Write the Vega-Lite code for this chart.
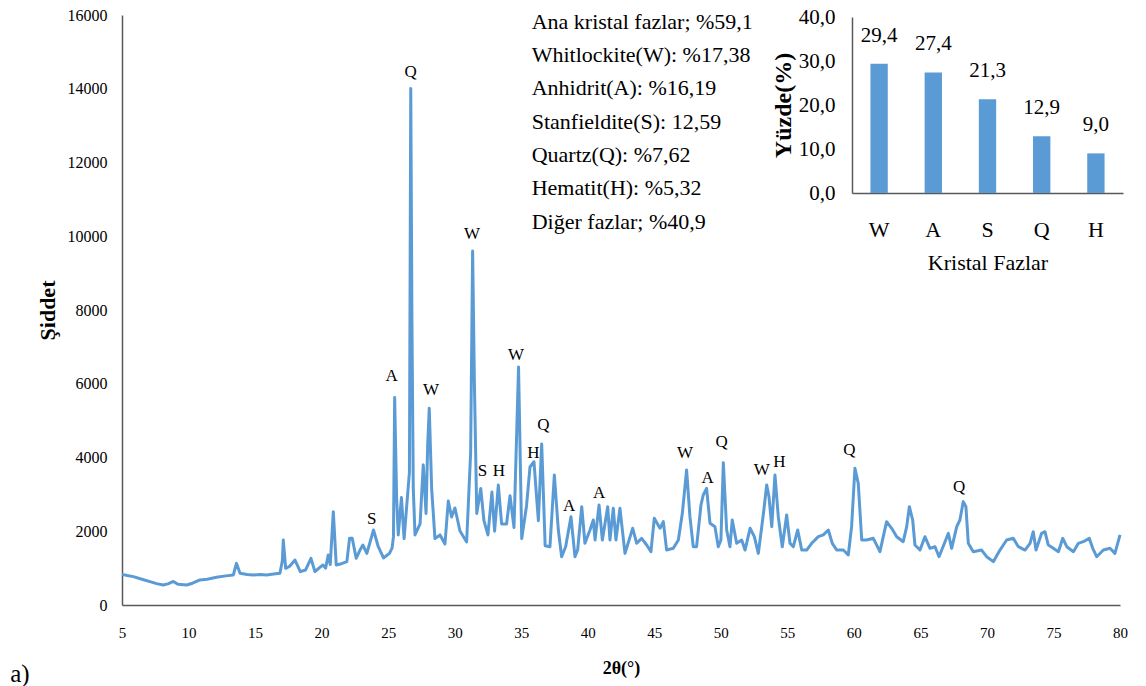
{
  "$schema": "https://vega.github.io/schema/vega-lite/v6.json",
  "autosize": {"type": "none"},
  "width": 998,
  "height": 590,
  "padding": {"left": 122, "top": 15, "right": 26, "bottom": 81},
  "background": "white",
  "config": {
    "view": {"stroke": null},
    "font": "Liberation Serif",
    "axis": {"labelFont": "Liberation Serif", "titleFont": "Liberation Serif", "labelColor": "#000000", "titleColor": "#000000", "domainColor": "#595959", "domainWidth": 1.5, "grid": false, "ticks": false, "tickSize": 0}
  },
  "layer": [
    {
      "encoding": {
        "x": {
          "field": "theta", "type": "quantitative",
          "scale": {"domain": [5, 80], "nice": false, "zero": false},
          "axis": {"orient": "bottom", "values": [5,10,15,20,25,30,35,40,45,50,55,60,65,70,75,80], "title": "2θ(°)", "titleFontWeight": "bold", "titleFontSize": 18, "labelFontSize": 15, "labelPadding": 20, "titlePadding": 19, "labelFlush": false}
        },
        "y": {
          "field": "intensity", "type": "quantitative",
          "scale": {"domain": [0, 16000], "nice": false},
          "axis": {"orient": "left", "values": [0,2000,4000,6000,8000,10000,12000,14000,16000], "format": "d", "title": "Şiddet", "titleFontWeight": "bold", "titleFontSize": 22, "labelFontSize": 16, "labelPadding": 15, "titlePadding": 8}
        }
      },
      "layer": [
        {
          "data": {"values": [
            {"theta":5.0,"intensity":830},{"theta":5.4,"intensity":800},{"theta":5.85,"intensity":770},{"theta":6.5,"intensity":700},{"theta":7.1,"intensity":633},{"theta":7.6,"intensity":580},{"theta":8.1,"intensity":542},{"theta":8.5,"intensity":580},{"theta":8.86,"intensity":640},{"theta":9.2,"intensity":560},{"theta":9.86,"intensity":542},{"theta":10.3,"intensity":590},{"theta":10.86,"intensity":680},{"theta":11.4,"intensity":700},{"theta":12.1,"intensity":750},{"theta":12.8,"intensity":790},{"theta":13.37,"intensity":814},{"theta":13.6,"intensity":1130},{"theta":13.87,"intensity":860},{"theta":14.4,"intensity":830},{"theta":14.87,"intensity":814},{"theta":15.4,"intensity":830},{"theta":15.87,"intensity":814},{"theta":16.4,"intensity":840},{"theta":16.87,"intensity":860},{"theta":17.05,"intensity":1200},{"theta":17.12,"intensity":1763},{"theta":17.3,"intensity":995},{"theta":17.6,"intensity":1050},{"theta":18.0,"intensity":1220},{"theta":18.4,"intensity":904},{"theta":18.8,"intensity":950},{"theta":19.2,"intensity":1266},{"theta":19.5,"intensity":904},{"theta":19.8,"intensity":1000},{"theta":20.1,"intensity":1085},{"theta":20.3,"intensity":1000},{"theta":20.5,"intensity":1356},{"theta":20.65,"intensity":1100},{"theta":20.88,"intensity":2530},{"theta":21.1,"intensity":1085},{"theta":21.5,"intensity":1120},{"theta":21.9,"intensity":1175},{"theta":22.1,"intensity":1808},{"theta":22.3,"intensity":1808},{"theta":22.6,"intensity":1266},{"theta":22.9,"intensity":1500},{"theta":23.1,"intensity":1627},{"theta":23.4,"intensity":1400},{"theta":23.9,"intensity":2034},{"theta":24.26,"intensity":1580},{"theta":24.65,"intensity":1275},{"theta":25.1,"intensity":1400},{"theta":25.3,"intensity":1550},{"theta":25.4,"intensity":1854},{"theta":25.49,"intensity":5627},{"theta":25.64,"intensity":2875},{"theta":25.76,"intensity":1900},{"theta":26.0,"intensity":2915},{"theta":26.2,"intensity":1800},{"theta":26.5,"intensity":3157},{"theta":26.6,"intensity":3600},{"theta":26.7,"intensity":14005},{"theta":26.79,"intensity":7620},{"theta":26.89,"intensity":3157},{"theta":27.02,"intensity":1900},{"theta":27.4,"intensity":2200},{"theta":27.64,"intensity":3800},{"theta":27.85,"intensity":2479},{"theta":27.97,"intensity":4320},{"theta":28.09,"intensity":5337},{"theta":28.27,"intensity":3157},{"theta":28.52,"intensity":1800},{"theta":28.9,"intensity":1900},{"theta":29.27,"intensity":1654},{"theta":29.52,"intensity":2820},{"theta":29.77,"intensity":2387},{"theta":30.02,"intensity":2630},{"theta":30.4,"intensity":2007},{"theta":30.9,"intensity":1710},{"theta":31.2,"intensity":4125},{"theta":31.35,"intensity":9600},{"theta":31.48,"intensity":6075},{"theta":31.66,"intensity":2479},{"theta":31.96,"intensity":3157},{"theta":32.2,"intensity":2286},{"theta":32.5,"intensity":1900},{"theta":32.8,"intensity":3064},{"theta":33.0,"intensity":2000},{"theta":33.28,"intensity":3254},{"theta":33.53,"intensity":2197},{"theta":33.9,"intensity":2197},{"theta":34.16,"intensity":2964},{"theta":34.46,"intensity":2100},{"theta":34.8,"intensity":6455},{"theta":35.04,"intensity":1800},{"theta":35.4,"intensity":2685},{"theta":35.66,"intensity":3742},{"theta":35.96,"intensity":3884},{"theta":36.29,"intensity":2286},{"theta":36.54,"intensity":4366},{"theta":36.8,"intensity":1608},
            {"theta":37.16,"intensity":1581},{"theta":37.49,"intensity":3526},{"theta":37.79,"intensity":2034},{"theta":38.04,"intensity":1310},{"theta":38.34,"intensity":1581},{"theta":38.74,"intensity":2395},{"theta":39.04,"intensity":1310},{"theta":39.24,"intensity":1490},{"theta":39.55,"intensity":2667},{"theta":39.79,"intensity":1673},{"theta":40.17,"intensity":2034},{"theta":40.42,"intensity":2305},{"theta":40.55,"intensity":1763},{"theta":40.85,"intensity":2712},{"theta":41.1,"intensity":1763},{"theta":41.5,"intensity":2667},{"theta":41.67,"intensity":1763},{"theta":41.92,"intensity":2622},{"theta":42.12,"intensity":1763},{"theta":42.42,"intensity":2622},{"theta":42.8,"intensity":1400},{"theta":43.38,"intensity":2080},{"theta":43.68,"intensity":1673},{"theta":44.05,"intensity":1808},{"theta":44.43,"intensity":1627},{"theta":44.75,"intensity":1446},{"theta":45.0,"intensity":2351},{"theta":45.43,"intensity":2080},{"theta":45.68,"intensity":2260},{"theta":45.93,"intensity":1490},{"theta":46.43,"intensity":1537},{"theta":46.81,"intensity":1763},{"theta":47.11,"intensity":2487},{"theta":47.43,"intensity":3661},{"theta":47.68,"intensity":2395},{"theta":47.93,"intensity":1581},{"theta":48.18,"intensity":1581},{"theta":48.51,"intensity":2712},{"theta":48.68,"intensity":2983},{"theta":48.93,"intensity":3164},{"theta":49.19,"intensity":2215},{"theta":49.56,"intensity":2125},{"theta":49.81,"intensity":1581},{"theta":50.01,"intensity":1763},{"theta":50.19,"intensity":3860},{"theta":50.44,"intensity":2034},{"theta":50.69,"intensity":1581},{"theta":50.86,"intensity":2305},{"theta":51.19,"intensity":1673},{"theta":51.57,"intensity":1763},{"theta":51.82,"intensity":1490},{"theta":52.2,"intensity":2080},{"theta":52.52,"intensity":1853},{"theta":52.82,"intensity":1400},{"theta":53.19,"intensity":2440},{"theta":53.45,"intensity":3254},{"theta":53.62,"intensity":2938},{"theta":53.83,"intensity":2125},{"theta":54.07,"intensity":3526},{"theta":54.32,"intensity":2395},{"theta":54.62,"intensity":1581},{"theta":54.95,"intensity":2440},{"theta":55.2,"intensity":1673},{"theta":55.45,"intensity":1581},{"theta":55.78,"intensity":2034},{"theta":56.08,"intensity":1490},{"theta":56.45,"intensity":1490},{"theta":56.83,"intensity":1673},{"theta":57.33,"intensity":1853},{"theta":57.7,"intensity":1900},{"theta":58.08,"intensity":2034},{"theta":58.38,"intensity":1673},{"theta":58.71,"intensity":1490},{"theta":59.21,"intensity":1490},{"theta":59.58,"intensity":1356},{"theta":59.83,"intensity":2125},{"theta":60.08,"intensity":3707},{"theta":60.33,"intensity":3300},{"theta":60.59,"intensity":1763},{"theta":60.96,"intensity":1763},{"theta":61.46,"intensity":1808},{"theta":61.96,"intensity":1446},{"theta":62.46,"intensity":2260},{"theta":62.84,"intensity":2080},{"theta":63.22,"intensity":1852},{"theta":63.71,"intensity":1717},{"theta":63.97,"intensity":2124},{"theta":64.17,"intensity":2667},{"theta":64.42,"intensity":2305},{"theta":64.59,"intensity":1627},{"theta":64.97,"intensity":1490},{"theta":65.34,"intensity":1852},{"theta":65.72,"intensity":1537},{"theta":66.1,"intensity":1581},{"theta":66.4,"intensity":1310},{"theta":66.85,"intensity":1717},{"theta":67.1,"intensity":1944},{"theta":67.35,"intensity":1537},{"theta":67.73,"intensity":2124},{"theta":67.97,"intensity":2305},{"theta":68.22,"intensity":2803},{"theta":68.42,"intensity":2667},{"theta":68.6,"intensity":1673},{"theta":68.97,"intensity":1446},{"theta":69.6,"intensity":1490},{"theta":69.98,"intensity":1310},{"theta":70.48,"intensity":1175},{"theta":70.98,"intensity":1490},{"theta":71.48,"intensity":1763},{"theta":71.98,"intensity":1808},{"theta":72.36,"intensity":1581},{"theta":72.86,"intensity":1490},{"theta":73.24,"intensity":1673},{"theta":73.48,"intensity":1988},{"theta":73.69,"intensity":1490},{"theta":74.11,"intensity":1944},{"theta":74.36,"intensity":1988},{"theta":74.61,"intensity":1627},{"theta":74.99,"intensity":1537},{"theta":75.37,"intensity":1446},{"theta":75.7,"intensity":1808},{"theta":76.0,"intensity":1581},{"theta":76.5,"intensity":1446},{"theta":76.87,"intensity":1673},{"theta":77.24,"intensity":1717},{"theta":77.69,"intensity":1808},{"theta":77.95,"intensity":1537},{"theta":78.25,"intensity":1310},{"theta":78.75,"intensity":1490},{"theta":79.25,"intensity":1537},{"theta":79.62,"intensity":1400},{"theta":80.0,"intensity":1900}
          ]},
          "mark": {"type": "line", "color": "#5B9BD5", "strokeWidth": 3, "strokeJoin": "round"}
        },
        {
          "data": {"values": [
            {"theta":23.77,"intensity":2332,"txt":"S"},{"theta":25.27,"intensity":6210,"txt":"A"},{"theta":26.7,"intensity":14441,"txt":"Q"},{"theta":28.22,"intensity":5831,"txt":"W"},{"theta":31.3,"intensity":10062,"txt":"W"},{"theta":32.09,"intensity":3634,"txt":"S"},{"theta":33.33,"intensity":3634,"txt":"H"},{"theta":34.61,"intensity":6780,"txt":"W"},{"theta":35.91,"intensity":4122,"txt":"H"},{"theta":36.66,"intensity":4882,"txt":"Q"},{"theta":38.61,"intensity":2685,"txt":"A"},{"theta":40.85,"intensity":3037,"txt":"A"},{"theta":47.31,"intensity":4122,"txt":"W"},{"theta":49.02,"intensity":3444,"txt":"A"},{"theta":50.07,"intensity":4420,"txt":"Q"},{"theta":53.07,"intensity":3661,"txt":"W"},{"theta":54.4,"intensity":3886,"txt":"H"},{"theta":59.66,"intensity":4204,"txt":"Q"},{"theta":67.92,"intensity":3208,"txt":"Q"}
          ]},
          "mark": {"type": "text", "font": "Liberation Serif", "fontSize": 17, "align": "center", "baseline": "middle", "color": "#000000"},
          "encoding": {"text": {"field": "txt"}}
        },
        {
          "data": {"values": [
            {"theta":35.79,"intensity":15819,"txt":"Ana kristal fazlar; %59,1"},
            {"theta":35.79,"intensity":14916,"txt":"Whitlockite(W): %17,38"},
            {"theta":35.79,"intensity":14014,"txt":"Anhidrit(A): %16,19"},
            {"theta":35.79,"intensity":13107,"txt":"Stanfieldite(S): 12,59"},
            {"theta":35.79,"intensity":12204,"txt":"Quartz(Q): %7,62"},
            {"theta":35.79,"intensity":11309,"txt":"Hematit(H): %5,32"},
            {"theta":35.79,"intensity":10395,"txt":"Diğer fazlar; %40,9"}
          ]},
          "mark": {"type": "text", "font": "Liberation Serif", "fontSize": 22, "align": "left", "baseline": "middle", "color": "#000000"},
          "encoding": {"text": {"field": "txt"}}
        },
        {
          "data": {"values": [{"theta": -3.4, "intensity": -2088, "txt": "a)"}]},
          "mark": {"type": "text", "font": "Liberation Serif", "fontSize": 25, "align": "left", "baseline": "alphabetic", "color": "#000000"},
          "encoding": {"text": {"field": "txt"}}
        }
      ]
    },
    {
      "data": {"values": [
        {"phase":"W","pct":29.4,"label":"29,4"},
        {"phase":"A","pct":27.4,"label":"27,4"},
        {"phase":"S","pct":21.3,"label":"21,3"},
        {"phase":"Q","pct":12.9,"label":"12,9"},
        {"phase":"H","pct":9.0,"label":"9,0"}
      ]},
      "encoding": {
        "x": {
          "field": "phase", "type": "nominal", "sort": null,
          "scale": {"range": [730, 1001], "paddingInner": 0.68, "paddingOuter": 0.34},
          "axis": {"orient": "bottom", "offset": -412, "labelAngle": 0, "title": "Kristal Fazlar", "titleFontSize": 22, "titleFontWeight": "normal", "labelFontSize": 22, "labelPadding": 26, "titlePadding": 12}
        },
        "y": {
          "field": "pct", "type": "quantitative",
          "scale": {"domain": [0, 40], "range": [178, 2], "nice": false},
          "axis": {"orient": "left", "offset": -730, "values": [0,10,20,30,40], "labelExpr": "replace(format(datum.value, '.1f'), '.', ',')", "labelFontSize": 21, "labelPadding": 17, "title": "Yüzde(%)", "titleFontSize": 24, "titleFontWeight": "bold", "titlePadding": 3}
        }
      },
      "layer": [
        {"mark": {"type": "bar", "color": "#5B9BD5"}},
        {
          "mark": {"type": "text", "font": "Liberation Serif", "fontSize": 21, "align": "center", "baseline": "alphabetic", "dy": -22, "color": "#000000"},
          "encoding": {"text": {"field": "label"}}
        }
      ]
    }
  ],
  "resolve": {"scale": {"x": "independent", "y": "independent"}, "axis": {"x": "independent", "y": "independent"}}
}
